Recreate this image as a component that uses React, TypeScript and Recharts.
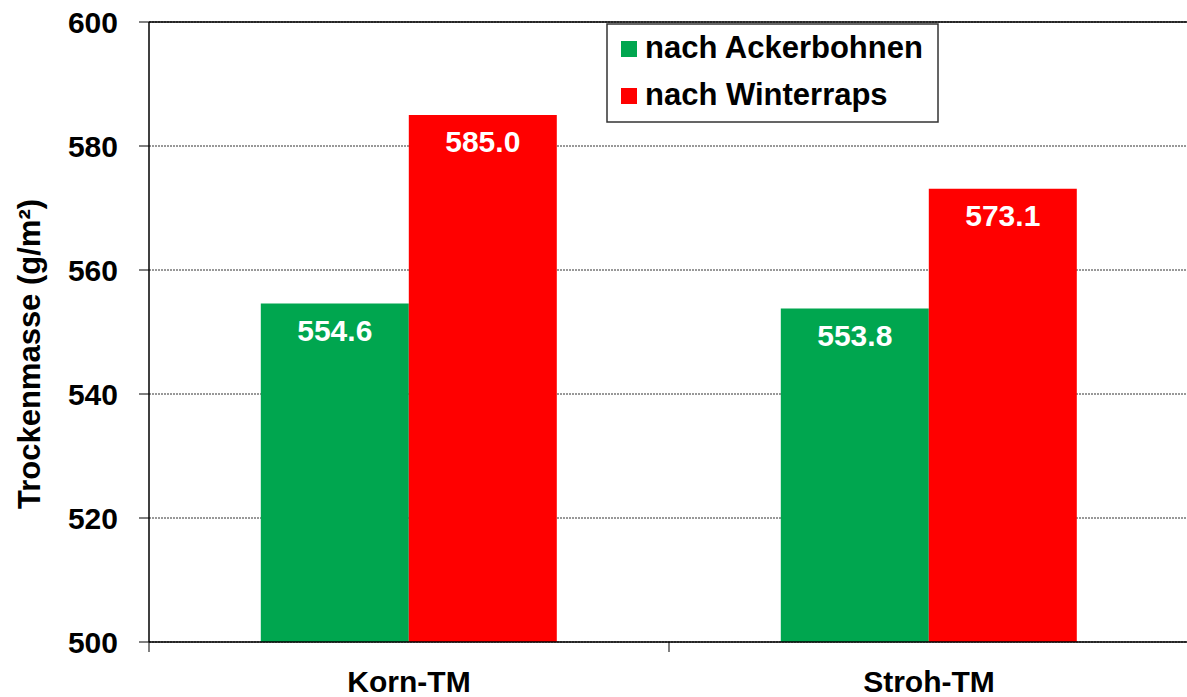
import React from "react";
import {
  BarChart,
  Bar,
  XAxis,
  YAxis,
  CartesianGrid,
  LabelList,
  ReferenceLine,
  Label,
} from "recharts";

const categories = ["Korn-TM", "Stroh-TM"];
const ackerbohnen = [554.6, 553.8];
const winterraps = [585.0, 573.1];
const yTicks = [500, 520, 540, 560, 580, 600];
const seriesNames = ["nach Ackerbohnen", "nach Winterraps"];
const yTitle = "Trockenmasse (g/m²)";

const data = categories.map((c, i) => ({
  name: c,
  ackerbohnen: ackerbohnen[i],
  winterraps: winterraps[i],
}));

const FONT = "Arial, 'Liberation Sans', sans-serif";
const GREEN = "#00A64F";
const RED = "#FF0000";
const seriesColors = [GREEN, RED];

const XTick = (props: any) => {
  const { x, y, payload, index } = props;
  const half = payload && payload.offset ? payload.offset : 260;
  return (
    <g>
      <line x1={x - half} x2={x - half} y1={y} y2={y + 10} stroke="#000" strokeWidth={1} />
      {index === categories.length - 1 && (
        <line x1={x + half} x2={x + half} y1={y} y2={y + 10} stroke="#000" strokeWidth={1} />
      )}
      <text
        x={x}
        y={y + 50}
        textAnchor="middle"
        fontFamily={FONT}
        fontWeight="bold"
        fontSize={30}
        fill="#000"
      >
        {payload.value}
      </text>
    </g>
  );
};

const LegendBox = () => (
  <svg
    width={334}
    height={102}
    style={{ position: "absolute", left: 606, top: 23, display: "block" }}
  >
    <rect x={1} y={1} width={331} height={98} fill="#fff" stroke="#333" strokeWidth={1.5} />
    {seriesNames.map((name, i) => (
      <g key={i}>
        <rect x={15} y={18 + i * 47} width={16} height={16} fill={seriesColors[i]} />
        <text
          x={39}
          y={35 + i * 47}
          fontFamily={FONT}
          fontWeight="bold"
          fontSize={31}
          fill="#000"
        >
          {name}
        </text>
      </g>
    ))}
  </svg>
);

const YTitle = (props: any) => {
  const { viewBox } = props;
  const cx = 29;
  const cy = (viewBox ? viewBox.y + viewBox.height / 2 : 332) + 22;
  return (
    <text
      x={cx}
      y={cy}
      transform={`rotate(-90, ${cx}, ${cy})`}
      textAnchor="middle"
      dominantBaseline="central"
      fontFamily={FONT}
      fontWeight="bold"
      fontSize={31}
      fill="#000"
    >
      {yTitle}
    </text>
  );
};

export default function App() {
  return (
    <div
      style={{
        position: "absolute",
        left: 0,
        top: 0,
        width: 1187,
        height: 697,
        overflow: "hidden",
        background: "#fff",
      }}
    >
      <BarChart
        width={1189}
        height={697}
        data={data}
        margin={{ top: 22, right: 0, bottom: 0, left: 0 }}
        barCategoryGap="21.5%"
        barGap={0}
      >
        <CartesianGrid vertical={false} stroke="#333" strokeDasharray="2 1" />
        <XAxis
          dataKey="name"
          tickLine={false}
          tickSize={0}
          tickMargin={0}
          axisLine={{ stroke: "#000", strokeWidth: 1.5 }}
          tick={<XTick />}
          height={55}
          interval={0}
        />
        <YAxis
          type="number"
          domain={[500, 600]}
          ticks={yTicks}
          width={149}
          tickSize={10}
          tickMargin={21}
          axisLine={{ stroke: "#000", strokeWidth: 1.5 }}
          tickLine={{ stroke: "#000" }}
          tick={{ fontFamily: FONT, fontWeight: "bold", fontSize: 30, fill: "#000" }}
          allowDataOverflow
        >
          <Label content={<YTitle />} />
        </YAxis>
        <ReferenceLine y={600} stroke="#000" strokeWidth={1.5} />
        <Bar dataKey="ackerbohnen" name={seriesNames[0]} fill={GREEN} isAnimationActive={false}>
          <LabelList
            dataKey="ackerbohnen"
            position="insideTop"
            offset={16}
            formatter={(v: any) => Number(v).toFixed(1)}
            style={{ fontFamily: FONT, fontWeight: "bold", fontSize: 30, fill: "#fff" }}
          />
        </Bar>
        <Bar dataKey="winterraps" name={seriesNames[1]} fill={RED} isAnimationActive={false}>
          <LabelList
            dataKey="winterraps"
            position="insideTop"
            offset={16}
            formatter={(v: any) => Number(v).toFixed(1)}
            style={{ fontFamily: FONT, fontWeight: "bold", fontSize: 30, fill: "#fff" }}
          />
        </Bar>
      </BarChart>
      <LegendBox />
    </div>
  );
}
